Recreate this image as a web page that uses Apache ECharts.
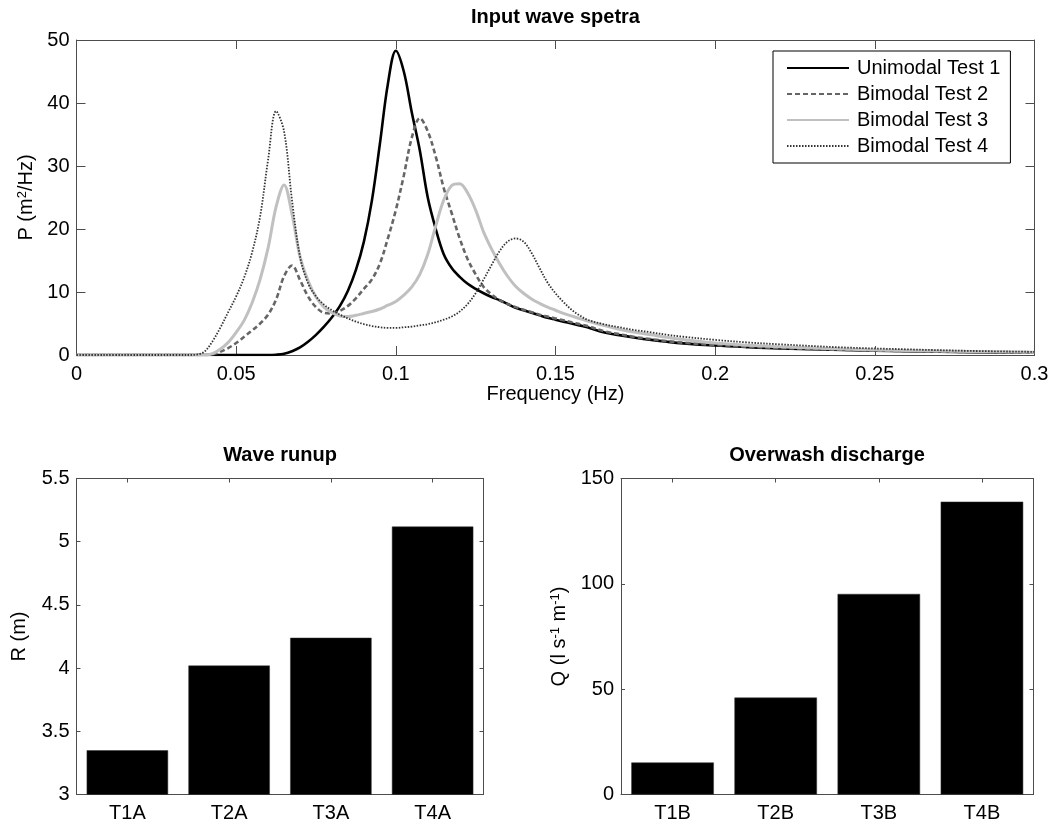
<!DOCTYPE html>
<html><head><meta charset="utf-8">
<script src="https://cdn.jsdelivr.net/npm/echarts@6/dist/echarts.min.js"></script>
<style>html,body{margin:0;padding:0;background:#fff}#c{width:1054px;height:825px}</style>
</head><body><div id="c"></div>
<script>
// ---- data ----
const freq = [0, 0.035, 0.0375, 0.04, 0.0425, 0.045, 0.0475, 0.05, 0.0525, 0.055, 0.0575, 0.06, 0.0625, 0.065, 0.0675, 0.07, 0.0725, 0.075, 0.0775, 0.08, 0.0825, 0.085, 0.0875, 0.09, 0.0925, 0.095, 0.0975, 0.1, 0.1025, 0.105, 0.1075, 0.11, 0.1125, 0.115, 0.1175, 0.12, 0.1225, 0.125, 0.1275, 0.13, 0.1325, 0.135, 0.1375, 0.14, 0.1425, 0.145, 0.1475, 0.15, 0.1525, 0.155, 0.1575, 0.16, 0.165, 0.17, 0.175, 0.18, 0.185, 0.19, 0.2, 0.21, 0.22, 0.24, 0.26, 0.28, 0.3];
const test1 = [0, 0, 0, 0, 0, 0, 0, 0, 0, 0, 0, 0, 0.05, 0.2, 0.6, 1.2, 2.1, 3.2, 4.5, 6.0, 7.8, 10.2, 13.5, 18, 24.5, 33.5, 43, 48.3, 45, 38.5, 32.5, 25, 20, 16, 13.8, 12.4, 11.3, 10.5, 9.8, 9.2, 8.7, 8.1, 7.5, 7.1, 6.7, 6.3, 5.9, 5.6, 5.3, 5.0, 4.7, 4.4, 3.6, 3.15, 2.75, 2.4, 2.1, 1.85, 1.5, 1.25, 1.05, 0.8, 0.6, 0.45, 0.35];
const test2 = [0, 0, 0, 0, 0.1, 0.5, 1.1, 1.9, 2.9, 3.9, 5.0, 6.4, 8.8, 12.5, 14.2, 11.9, 9.3, 7.6, 6.7, 6.6, 7.0, 7.8, 9.0, 10.5, 12.0, 14.5, 18.5, 23, 28.5, 34.5, 37.6, 35.5, 31.5, 26.5, 22.5, 18.5, 15.2, 12.8, 10.8, 9.6, 8.7, 8.1, 7.6, 7.2, 6.8, 6.4, 6.1, 5.8, 5.5, 5.2, 4.9, 4.6, 3.8, 3.3, 2.85, 2.5, 2.2, 1.95, 1.6, 1.32, 1.1, 0.82, 0.62, 0.47, 0.36];
const test3 = [0, 0, 0, 0, 0.2, 0.9, 2.0, 3.6, 5.5, 8.3, 12.0, 17, 23.5, 27, 22.3, 15.6, 11.8, 9.2, 7.6, 6.7, 6.2, 6.1, 6.3, 6.6, 6.9, 7.3, 7.9, 8.5, 9.5, 10.8, 12.8, 16, 20.5, 24.6, 26.9, 27.2, 25.7, 23, 19.5, 16.8, 14.5, 12.5, 10.9, 9.8, 8.9, 8.2, 7.6, 7.1, 6.6, 6.2, 5.8, 5.4, 4.7, 4.1, 3.6, 3.2, 2.8, 2.45, 1.9, 1.55, 1.3, 0.95, 0.7, 0.55, 0.42];
const test4 = [0, 0, 0.05, 0.5, 2.1, 4.3, 6.8, 9.3, 12.3, 16.3, 22, 31, 38.7, 35.5, 24.5, 15.6, 11.4, 9.3, 8.0, 7.1, 6.4, 5.8, 5.3, 4.9, 4.6, 4.4, 4.3, 4.3, 4.4, 4.5, 4.7, 4.9, 5.2, 5.6, 6.1, 6.9, 8.1, 9.8, 12, 14.3, 16.5, 18, 18.5, 18.0, 16.2, 13.8, 11.5, 9.8, 8.4, 7.2, 6.3, 5.6, 4.9, 4.4, 3.95, 3.6, 3.2, 2.9, 2.4, 2.0, 1.7, 1.2, 0.9, 0.65, 0.5];
const seriesNames = ['Unimodal Test 1', 'Bimodal Test 2', 'Bimodal Test 3', 'Bimodal Test 4'];
const runupCats = ['T1A', 'T2A', 'T3A', 'T4A'];
const runupVals = [3.35, 4.02, 4.24, 5.12];
const dischargeCats = ['T1B', 'T2B', 'T3B', 'T4B'];
const dischargeVals = [15.2, 46, 95.2, 139];
const freqTicks = {min: 0, max: 0.3, interval: 0.05};
const psdTicks = {min: 0, max: 50, interval: 10};
const runupTicks = {min: 3, max: 5.5, interval: 0.5};
const dischargeTicks = {min: 0, max: 150, interval: 50};

// ---- styles ----
const FONT = '"Liberation Sans", Arial, Helvetica, sans-serif';
const AX = '#4d4d4d';
const FS = 20;
const chart = echarts.init(document.getElementById('c'), null, {renderer: 'canvas'});
const zip = ys => freq.map((f, i) => [f, ys[i]]);
const lbl = (show, margin) => ({show: show, color: '#000', fontSize: FS, fontFamily: FONT, margin: margin});
function valAxis(grid, pos, ticks, tickLen, showLbl, extra) {
  return Object.assign({
    type: 'value', gridIndex: grid, position: pos,
    min: ticks.min, max: ticks.max, interval: ticks.interval,
    axisLine: {show: true, onZero: false, lineStyle: {color: AX, width: 1}},
    axisTick: {show: true, inside: true, length: tickLen, lineStyle: {color: AX, width: 1}},
    axisLabel: lbl(showLbl, (pos === 'left' || pos === 'right') ? 7 : 9),
    splitLine: {show: false}
  }, extra || {});
}
function catAxis(grid, pos, cats, showLbl) {
  return {
    type: 'category', gridIndex: grid, position: pos, data: cats, boundaryGap: true,
    axisLine: {show: true, onZero: false, lineStyle: {color: AX, width: 1}},
    axisTick: {show: true, inside: true, alignWithLabel: true, length: 4, lineStyle: {color: AX, width: 1}},
    axisLabel: lbl(showLbl, 9),
    splitLine: {show: false}
  };
}
const nameStyle = {color: '#000', fontSize: FS, fontFamily: FONT,
  rich: {sup: {fontSize: 13, fontFamily: FONT, color: '#000', verticalAlign: 'top', lineHeight: 12}}};
const TRANSPARENT = 'rgba(0,0,0,0)';

const option = {
  backgroundColor: '#fff',
  animation: false,
  title: [
    {text: 'Input wave spetra', left: 555.5, top: 7, textAlign: 'center', padding: 0,
     textStyle: {fontSize: FS, fontWeight: 'bold', color: '#000', fontFamily: FONT}},
    {text: 'Wave runup', left: 280, top: 445, textAlign: 'center', padding: 0,
     textStyle: {fontSize: FS, fontWeight: 'bold', color: '#000', fontFamily: FONT}},
    {text: 'Overwash discharge', left: 827, top: 445, textAlign: 'center', padding: 0,
     textStyle: {fontSize: FS, fontWeight: 'bold', color: '#000', fontFamily: FONT}}
  ],
  legend: {
    data: seriesNames, orient: 'vertical', left: 773, top: 51,
    padding: [7, 10, 7, 13], itemGap: 6, itemWidth: 62, itemHeight: 14,
    backgroundColor: '#fff', borderColor: '#000', borderWidth: 1,
    selectedMode: false,
    itemStyle: {color: TRANSPARENT, borderColor: TRANSPARENT, borderWidth: 0, opacity: 0},
    textStyle: {fontSize: FS, color: '#000', fontFamily: FONT, padding: [0, 0, 0, 3]}
  },
  grid: [
    {left: 76.5, right: 19.5, top: 40, bottom: 470},
    {left: 76.5, right: 570.5, top: 478.5, bottom: 30.5},
    {left: 621, right: 20.5, top: 478.5, bottom: 30.5}
  ],
  xAxis: [
    valAxis(0, 'bottom', freqTicks, 9, true, {name: 'Frequency (Hz)', nameLocation: 'middle', nameGap: 26, nameTextStyle: nameStyle}),
    valAxis(0, 'top', freqTicks, 9, false),
    catAxis(1, 'bottom', runupCats, true),
    catAxis(1, 'top', runupCats, false),
    catAxis(2, 'bottom', dischargeCats, true),
    catAxis(2, 'top', dischargeCats, false)
  ],
  yAxis: [
    valAxis(0, 'left', psdTicks, 9, true, {name: 'P (m{sup|2}/Hz)', nameLocation: 'middle', nameGap: 40, nameRotate: 90, nameTextStyle: nameStyle}),
    valAxis(0, 'right', psdTicks, 9, false),
    valAxis(1, 'left', runupTicks, 4, true, {name: 'R (m)', nameLocation: 'middle', nameGap: 47, nameRotate: 90, nameTextStyle: nameStyle}),
    valAxis(1, 'right', runupTicks, 4, false),
    valAxis(2, 'left', dischargeTicks, 4, true, {name: 'Q (l s{sup|-1} m{sup|-1})', nameLocation: 'middle', nameGap: 52, nameRotate: 90, nameTextStyle: nameStyle}),
    valAxis(2, 'right', dischargeTicks, 4, false)
  ],
  series: [
    {name: seriesNames[0], type: 'line', xAxisIndex: 0, yAxisIndex: 0, data: zip(test1), showSymbol: false, symbol: 'none',
     smooth: 0.35, lineStyle: {color: '#000', width: 2.6}, itemStyle: {color: '#000'}},
    {name: seriesNames[1], type: 'line', xAxisIndex: 0, yAxisIndex: 0, data: zip(test2), showSymbol: false, symbol: 'none',
     smooth: 0.35, lineStyle: {color: '#666', width: 2.6, type: [5, 3]}, itemStyle: {color: '#666'}},
    {name: seriesNames[2], type: 'line', xAxisIndex: 0, yAxisIndex: 0, data: zip(test3), showSymbol: false, symbol: 'none',
     smooth: 0.35, lineStyle: {color: '#c0c0c0', width: 3}, itemStyle: {color: '#c0c0c0'}},
    {name: seriesNames[3], type: 'line', xAxisIndex: 0, yAxisIndex: 0, data: zip(test4), showSymbol: false, symbol: 'none',
     smooth: 0.35, lineStyle: {color: '#333', width: 1.8, type: [1.5, 1.5]}, itemStyle: {color: '#333'}},
    {type: 'bar', xAxisIndex: 2, yAxisIndex: 2, data: runupVals, barWidth: '80%',
     itemStyle: {color: '#000', borderColor: '#333', borderWidth: 0.5}},
    {type: 'bar', xAxisIndex: 4, yAxisIndex: 4, data: dischargeVals, barWidth: '80%',
     itemStyle: {color: '#000', borderColor: '#333', borderWidth: 0.5}}
  ]
};
chart.setOption(option);
</script>
</body></html>
